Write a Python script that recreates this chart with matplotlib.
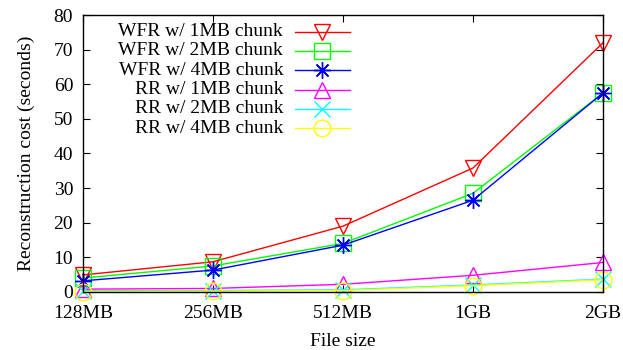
import numpy as np
import matplotlib
matplotlib.use("Agg")
import matplotlib.pyplot as plt

# file sizes on the x axis
sizes = ["128MB", "256MB", "512MB", "1GB", "2GB"]

# reconstruction cost in seconds
wfr_1mb = [4.9, 8.7, 19.0, 35.8, 72.0]
wfr_2mb = [4.0, 7.5, 14.0, 28.5, 57.5]
wfr_4mb = [3.2, 6.3, 13.5, 26.5, 57.5]
rr_1mb = [0.8, 1.0, 2.2, 4.8, 8.5]
rr_2mb = [0.3, 0.4, 0.6, 2.0, 3.7]
rr_4mb = [0.1, 0.2, 0.4, 1.8, 3.5]

plt.rcParams['font.family'] = ['Liberation Serif', 'DejaVu Serif']

fig = plt.figure(figsize=(6.23, 3.5), dpi=100)
ax = fig.add_axes([0.133, 0.166, 0.835, 0.791])

x = np.arange(len(sizes))
series = [
    ("WFR w/ 1MB chunk", wfr_1mb, "#ff0000", "v"),
    ("WFR w/ 2MB chunk", wfr_2mb, "#00ff00", "s"),
    ("WFR w/ 4MB chunk", wfr_4mb, "#0000ff", (8, 2, 0)),
    ("RR w/ 1MB chunk", rr_1mb, "#ff00ff", "^"),
    ("RR w/ 2MB chunk", rr_2mb, "#00ffff", "x"),
    ("RR w/ 4MB chunk", rr_4mb, "#ffff00", "o"),
]
for i, (label, vals, color, marker) in enumerate(series):
    ax.plot(x, vals, color=color, lw=1.0, marker=marker, ms=12,
            mfc='none', mec=color, mew=1.0, clip_on=False)
    # gnuplot-style key: right-aligned text, sample line on the right
    ky = 0.940 - i * 0.0697
    ax.text(0.385, ky, label, transform=ax.transAxes, ha='right',
            va='center', fontsize=14)
    ax.plot([0.408, 0.513], [ky, ky], color=color, lw=1.0,
            transform=ax.transAxes, clip_on=False)
    ax.plot([0.4605], [ky], color=color, marker=marker, ms=12, mfc='none',
            mec=color, mew=1.0, transform=ax.transAxes, clip_on=False)

ax.set_xlim(0, len(sizes) - 1)
ax.set_ylim(0, 80)
ax.set_xticks(x)
ax.set_xticklabels(sizes)
ax.set_yticks(np.arange(0, 81, 10))
ax.tick_params(direction='in', top=True, right=True, length=5, width=0.8,
               labelsize=14)
ax.tick_params(axis='x', pad=9.5)
ax.tick_params(axis='y', pad=7)
for s in ax.spines.values():
    s.set_linewidth(1.0)

ax.set_xlabel("File size", fontsize=14, labelpad=8)
ax.set_ylabel("Reconstruction cost (seconds)", fontsize=14, labelpad=13)

fig.savefig("out.png", dpi=100)
